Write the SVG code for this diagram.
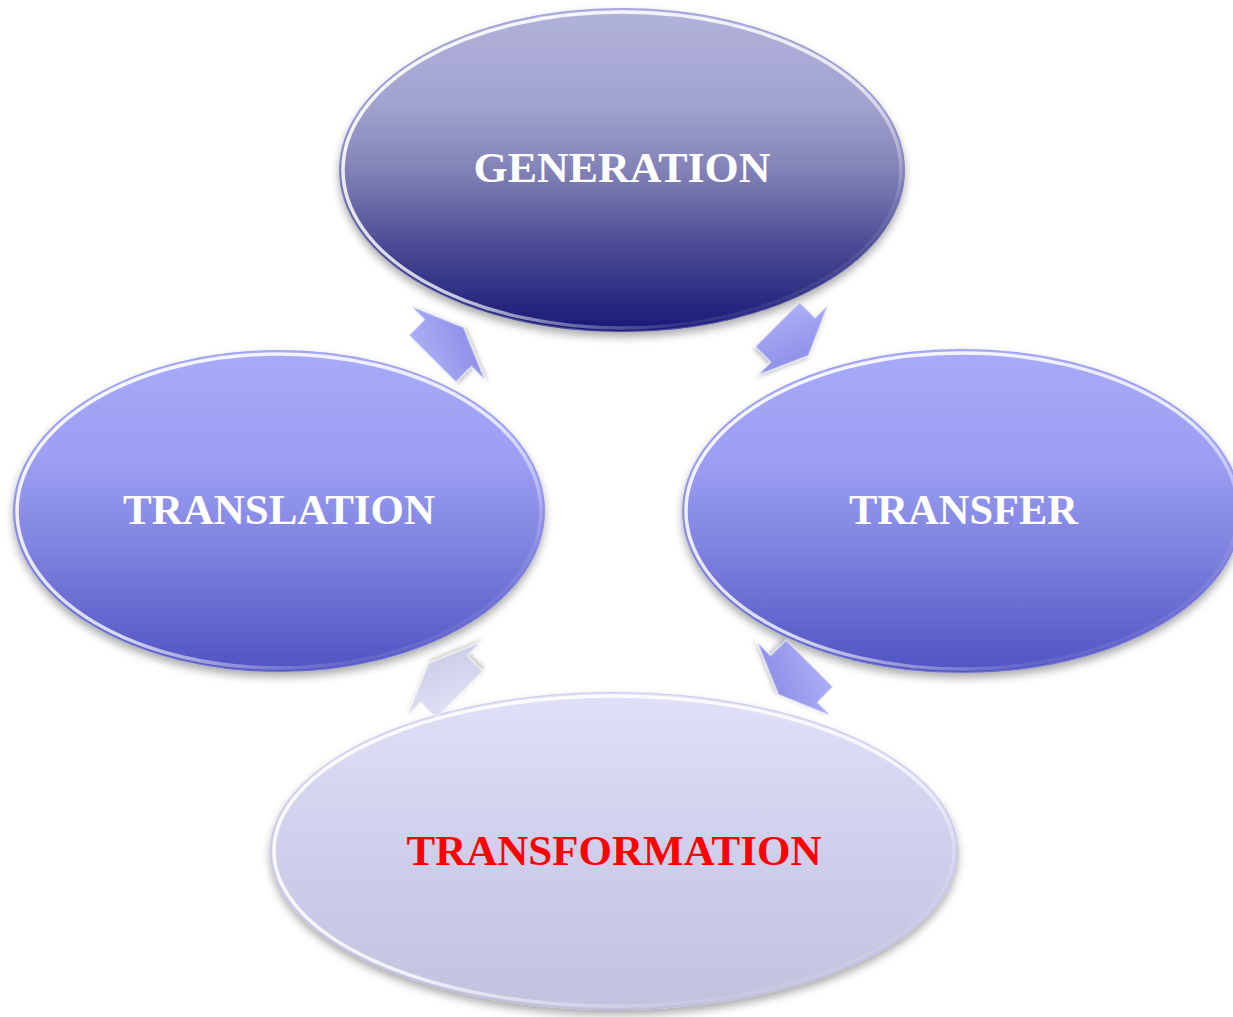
<svg xmlns="http://www.w3.org/2000/svg" width="1233" height="1017" viewBox="0 0 1233 1017">
  <style>
    .lbl { font-family: "Liberation Serif", "Times New Roman", serif; font-weight: bold; font-size: 43px; text-anchor: middle; }
    .white { fill: #ffffff; }
    .red { fill: #ff0000; }
    .rim { fill: none; stroke: url(#rimGrad); stroke-width: 3.5; }
    .edge { fill: none; stroke-width: 1; stroke-opacity: 0.45; }
    .arrow { stroke: #ffffff; stroke-opacity: 0.55; stroke-width: 1.2; stroke-linejoin: miter; filter: url(#shadowSmall); }
  </style>
  <defs>
    <linearGradient id="gGen" x1="0" y1="0" x2="0" y2="1">
      <stop offset="0" stop-color="#b2b3dc"/>
      <stop offset="0.3" stop-color="#a2a2cf"/>
      <stop offset="0.5" stop-color="#8282b7"/>
      <stop offset="0.75" stop-color="#474792"/>
      <stop offset="1" stop-color="#191977"/>
    </linearGradient>
    <linearGradient id="gMid" x1="0" y1="0" x2="0" y2="1">
      <stop offset="0" stop-color="#a8abf8"/>
      <stop offset="0.35" stop-color="#9b9ef2"/>
      <stop offset="0.6" stop-color="#8184e0"/>
      <stop offset="1" stop-color="#5053c2"/>
    </linearGradient>
    <linearGradient id="gLight" x1="0" y1="0" x2="0" y2="1">
      <stop offset="0" stop-color="#e0e0f8"/>
      <stop offset="0.5" stop-color="#cfcfec"/>
      <stop offset="1" stop-color="#c2c2de"/>
    </linearGradient>
    <linearGradient id="rimGrad" x1="0" y1="0" x2="1" y2="1">
      <stop offset="0" stop-color="#ffffff" stop-opacity="0.95"/>
      <stop offset="0.55" stop-color="#ffffff" stop-opacity="0.75"/>
      <stop offset="0.8" stop-color="#ffffff" stop-opacity="0.1"/>
      <stop offset="1" stop-color="#ffffff" stop-opacity="0"/>
    </linearGradient>
    <linearGradient id="gArrow" x1="0" y1="0" x2="1" y2="1">
      <stop offset="0" stop-color="#b0b3f6"/>
      <stop offset="1" stop-color="#8487e4"/>
    </linearGradient>
    <linearGradient id="gArrowLight" x1="0" y1="0" x2="1" y2="1">
      <stop offset="0" stop-color="#e2e2f6"/>
      <stop offset="1" stop-color="#c8c8e6"/>
    </linearGradient>
    <filter id="shadow" x="-10%" y="-10%" width="120%" height="130%">
      <feDropShadow dx="0" dy="5" stdDeviation="4" flood-color="#000000" flood-opacity="0.33"/>
    </filter>
    <filter id="shadowSmall" x="-20%" y="-20%" width="140%" height="140%">
      <feDropShadow dx="1" dy="3" stdDeviation="2" flood-color="#000000" flood-opacity="0.25"/>
    </filter>
    <polygon id="arrowShape" points="-22,-33 0,-33 0,-52 22,0 0,52 0,33 -22,33"/>
  </defs>

  <rect width="1233" height="1017" fill="#ffffff"/>

  <g id="node-generation">
    <ellipse cx="622" cy="170" rx="283" ry="162" fill="url(#gGen)" filter="url(#shadow)"/>
    <ellipse cx="622" cy="170" rx="282.5" ry="161.5" class="edge" stroke="#8c8ed8"/>
    <ellipse cx="622" cy="170" rx="279" ry="158" class="rim"/>
    <text x="622" y="182" class="lbl white" textLength="297" lengthAdjust="spacingAndGlyphs">GENERATION</text>
  </g>

  <g id="node-translation">
    <ellipse cx="279" cy="511" rx="266" ry="161" fill="url(#gMid)" filter="url(#shadow)"/>
    <ellipse cx="279" cy="511" rx="265.5" ry="160.5" class="edge" stroke="#9a9df0"/>
    <ellipse cx="279" cy="511" rx="262" ry="157" class="rim"/>
    <text x="279" y="524" class="lbl white" textLength="312" lengthAdjust="spacingAndGlyphs">TRANSLATION</text>
  </g>

  <g id="node-transfer">
    <ellipse cx="962" cy="511" rx="280" ry="162" fill="url(#gMid)" filter="url(#shadow)"/>
    <ellipse cx="962" cy="511" rx="279.5" ry="161.5" class="edge" stroke="#9a9df0"/>
    <ellipse cx="962" cy="511" rx="276" ry="158" class="rim"/>
    <text x="963.5" y="524" class="lbl white" textLength="229" lengthAdjust="spacingAndGlyphs">TRANSFER</text>
  </g>

  <g id="node-transformation">
    <ellipse cx="614" cy="851" rx="344" ry="159" fill="url(#gLight)" filter="url(#shadow)"/>
    <ellipse cx="614" cy="851" rx="343.5" ry="158.5" class="edge" stroke="#b4b6e0"/>
    <ellipse cx="614" cy="851" rx="340" ry="155" class="rim" stroke-width="4"/>
    <text x="614" y="865" class="lbl red" textLength="415" lengthAdjust="spacingAndGlyphs">TRANSFORMATION</text>
  </g>

  <g id="connectors">
    <use href="#arrowShape" class="arrow" fill="url(#gArrow)" transform="translate(448,343) rotate(-45)"/>
    <use href="#arrowShape" class="arrow" fill="url(#gArrow)" transform="translate(793,340) rotate(45) scale(1,0.95)"/>
    <use href="#arrowShape" class="arrow" fill="url(#gArrow)" transform="translate(794,679) rotate(135)"/>
    <use href="#arrowShape" class="arrow" fill="url(#gArrowLight)" transform="translate(444,679) rotate(-135)"/>
  </g>
</svg>
